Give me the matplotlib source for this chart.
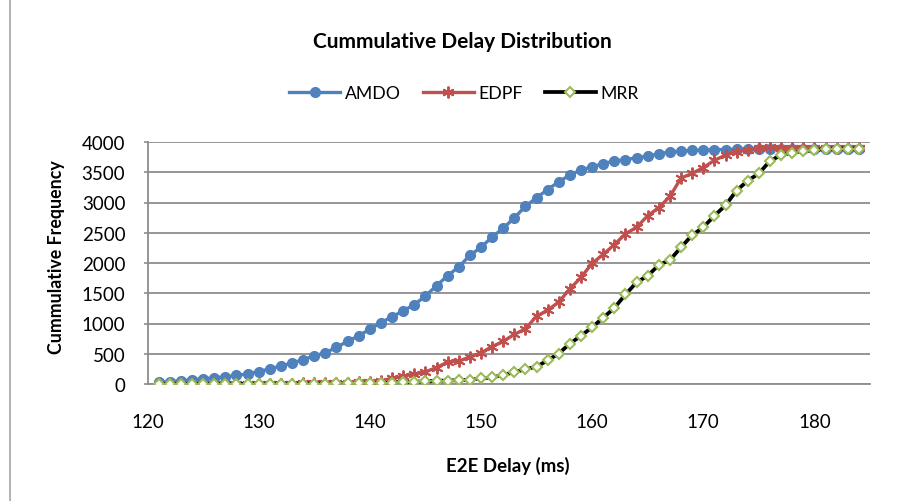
import matplotlib
matplotlib.use("Agg")
import matplotlib.pyplot as plt
from matplotlib.lines import Line2D

plt.rcParams['font.family'] = ['Lato', 'DejaVu Sans']

delay_ms = list(range(121, 185))

amdo = [27, 38, 54, 70, 87, 103, 119, 141, 168, 206,
        249, 298, 347, 401, 466, 515, 607, 705, 797, 905,
        1014, 1111, 1209, 1312, 1453, 1626, 1789, 1935, 2125, 2260,
        2428, 2575, 2745, 2938, 3079, 3214, 3344, 3453, 3539, 3588,
        3642, 3686, 3707, 3740, 3767, 3805, 3837, 3848, 3860, 3868,
        3872, 3876, 3880, 3883, 3885, 3887, 3888, 3889, 3890, 3890,
        3890, 3890, 3890, 3890]

edpf = [2, 3, 3, 4, 4, 5, 5, 6, 6, 7,
        7, 8, 8, 9, 10, 11, 13, 20, 27, 38,
        54, 92, 130, 163, 200, 271, 363, 379, 444, 515,
        618, 705, 820, 911, 1122, 1220, 1355, 1572, 1762, 1995,
        2141, 2304, 2482, 2591, 2780, 2916, 3100, 3404, 3480, 3577,
        3696, 3783, 3837, 3875, 3905, 3910, 3905, 3900, 3900, 3900,
        3900, 3900, 3900, 3900]

mrr = [1, 1, 2, 2, 2, 3, 3, 3, 4, 4,
       5, 5, 6, 6, 7, 8, 9, 10, 12, 14,
       16, 22, 27, 38, 43, 54, 56, 65, 70, 92,
       108, 150, 195, 244, 287, 390, 504, 667, 797, 938,
       1095, 1257, 1480, 1680, 1789, 1967, 2049, 2260, 2460, 2591,
       2780, 2954, 3198, 3360, 3480, 3686, 3783, 3821, 3848, 3864,
       3886, 3892, 3892, 3892]

series_names = ["AMDO", "EDPF", "MRR"]
x_ticks = [120, 130, 140, 150, 160, 170, 180]
y_ticks = [0, 500, 1000, 1500, 2000, 2500, 3000, 3500, 4000]

W, H = 901, 502
fig = plt.figure(figsize=(W / 100, H / 100), dpi=100)

# chart border (only the left edge is visible in the reference)
fig.add_artist(Line2D([10 / W, 10 / W], [0, 1], transform=fig.transFigure,
                      color='#a6a6a6', lw=1.2))

L, R, T, B = 147.5, 870, 143, 385
ax = fig.add_axes([L / W, 1 - B / H, (R - L) / W, (B - T) / H])

blue = '#4F81BD'
red = '#C0504D'
green = '#9BBB59'

ax.plot(delay_ms, amdo, color=blue, lw=2.4, marker='o', ms=7,
        mfc=blue, mec=blue, zorder=3)
ax.plot(delay_ms, edpf, color=red, lw=2.4, marker=(6, 2, 0), ms=8.5,
        mec=red, mew=1.4, zorder=4)
ax.plot(delay_ms, mrr, color='black', lw=2.7, marker='D', ms=4.8,
        mfc='white', mec=green, mew=1.5, zorder=5)

ax.set_xlim(120, 185)
ax.set_ylim(0, 4000)
ax.set_yticks(y_ticks)
ax.set_xticks(x_ticks)
ax.grid(axis='y', color='#8c8c8c', lw=1.3)
ax.set_axisbelow(True)
for s in ['top', 'right']:
    ax.spines[s].set_visible(False)
for s in ['left', 'bottom']:
    ax.spines[s].set_color('#8c8c8c')
    ax.spines[s].set_linewidth(1.3)
ax.tick_params(axis='y', length=3, width=1.2, color='#8c8c8c',
               labelsize=13.5, pad=13)
ax.tick_params(axis='x', length=0, labelsize=13.5, pad=21)

fig.text(462 / W, 1 - 42 / H, "Cummulative Delay Distribution",
         ha='center', va='center', fontsize=15, fontweight='bold')
fig.text(508 / W, 1 - 466 / H, "E2E Delay (ms)",
         ha='center', va='center', fontsize=13.4, fontweight='bold')
fig.text(57 / W, 1 - 257 / H, "Cummulative Frequency", rotation=90,
         ha='center', va='center', fontsize=12.8, fontweight='bold')

handles = [
    Line2D([], [], color=blue, lw=2.4, marker='o', ms=7, mfc=blue, mec=blue),
    Line2D([], [], color=red, lw=2.4, marker=(6, 2, 0), ms=8.5, mec=red, mew=1.4),
    Line2D([], [], color='black', lw=2.7, marker='D', ms=4.8, mfc='white',
           mec=green, mew=1.5),
]
fig.legend(handles, series_names, loc='center', bbox_to_anchor=(464 / W, 1 - 94 / H),
           ncol=3, frameon=False, fontsize=12.7, handlelength=2.9,
           columnspacing=1.25, handletextpad=0.25)

fig.savefig("out.png", dpi=100)
